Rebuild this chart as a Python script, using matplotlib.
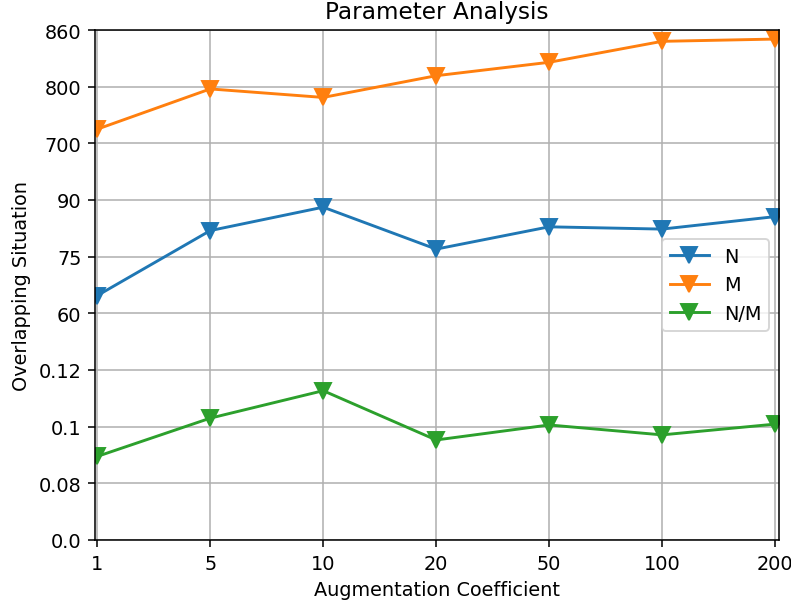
import matplotlib
matplotlib.use("Agg")
import matplotlib.pyplot as plt
import numpy as np

coeffs = ["1", "5", "10", "20", "50", "100", "200"]
n_vals = [64.7, 81.9, 88.1, 77.0, 82.9, 82.3, 85.6]
m_vals = [725, 796, 781, 811.6, 825.8, 848, 850.4]
nm_vals = [0.0895, 0.1030, 0.1127, 0.0953, 0.1006, 0.0971, 0.1009]

# broken y axis: each tick gets the same height
tick_vals = [0.0, 0.08, 0.1, 0.12, 60, 75, 90, 700, 800, 860]
tick_labels = ["0.0", "0.08", "0.1", "0.12", "60", "75", "90", "700", "800", "860"]
idx = np.arange(len(tick_vals))


def forward(v):
    return np.interp(v, tick_vals, idx)


def inverse(p):
    return np.interp(p, idx, tick_vals)


dpi = 139
fig = plt.figure(figsize=(791/dpi, 605/dpi), dpi=dpi)
ax = fig.add_subplot(111)
fig.subplots_adjust(left=95/791, right=779/791, top=1-31/605, bottom=1-541/605)

x = np.arange(len(coeffs))
ax.plot(x, n_vals, marker="v", markersize=8, label="N")
ax.plot(x, m_vals, marker="v", markersize=8, label="M")
ax.plot(x, nm_vals, marker="v", markersize=8, label="N/M")

ax.set_yscale("function", functions=(forward, inverse))
ax.set_ylim(0, 860)
ax.set_yticks(tick_vals)
ax.set_yticklabels(tick_labels)
ax.set_xticks(x)
ax.set_xticklabels(coeffs)
ax.set_xlim(-0.02, 6.035)
ax.grid(True)

ax.set_title("Parameter Analysis")
ax.set_xlabel("Augmentation Coefficient")
ax.set_ylabel("Overlapping Situation")
ax.legend(loc="center right")

fig.savefig("out.png", dpi=dpi)
